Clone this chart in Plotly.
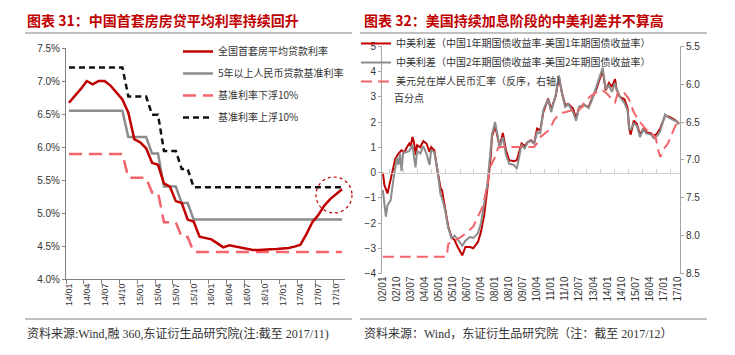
import plotly.graph_objects as go

W, H = 735, 355
OFF = 8  # page body margin offset
def px(x): return (x - OFF) / W
def py(y): return 1 - (y - OFF) / H

# ---------------- Left chart data (monthly 2014/01 - 2017/11) ----------------
months_left = ["14/01","14/02","14/03","14/04","14/05","14/06","14/07","14/08","14/09","14/10","14/11","14/12",
               "15/01","15/02","15/03","15/04","15/05","15/06","15/07","15/08","15/09","15/10","15/11","15/12",
               "16/01","16/02","16/03","16/04","16/05","16/06","16/07","16/08","16/09","16/10","16/11","16/12",
               "17/01","17/02","17/03","17/04","17/05","17/06","17/07","17/08","17/09","17/10","17/11"]
avg_mortgage = [6.67,6.77,6.88,7.00,6.95,7.00,7.00,6.93,6.83,6.72,6.52,6.12,
                6.07,5.98,5.76,5.73,5.45,5.40,5.18,5.15,4.90,4.87,4.64,4.62,
                4.60,4.54,4.48,4.51,4.49,4.48,4.45,4.44,4.44,4.44,4.45,4.455,
                4.46,4.47,4.49,4.52,4.68,4.86,4.97,5.11,5.21,5.29,5.36]
base_5y = [6.55,6.55,6.55,6.55,6.55,6.55,6.55,6.55,6.55,6.55,6.15,6.15,
           6.15,6.15,5.90,5.90,5.40,5.40,5.40,5.15,5.15,4.90,4.90,4.90,
           4.90,4.90,4.90,4.90,4.90,4.90,4.90,4.90,4.90,4.90,4.90,4.90,
           4.90,4.90,4.90,4.90,4.90,4.90,4.90,4.90,4.90,4.90,4.90]
base_down10 = [5.895,5.895,5.895,5.895,5.895,5.895,5.895,5.895,5.895,5.895,5.535,5.535,
               5.535,5.535,5.31,5.31,4.86,4.86,4.86,4.635,4.635,4.41,4.41,4.41,
               4.41,4.41,4.41,4.41,4.41,4.41,4.41,4.41,4.41,4.41,4.41,4.41,
               4.41,4.41,4.41,4.41,4.41,4.41,4.41,4.41,4.41,4.41,4.41]
base_up10 = [7.205,7.205,7.205,7.205,7.205,7.205,7.205,7.205,7.205,7.205,6.765,6.765,
             6.765,6.765,6.49,6.49,5.94,5.94,5.94,5.665,5.665,5.39,5.39,5.39,
             5.39,5.39,5.39,5.39,5.39,5.39,5.39,5.39,5.39,5.39,5.39,5.39,
             5.39,5.39,5.39,5.39,5.39,5.39,5.39,5.39,5.39,5.39,5.39]
left_yticks = [4.0,4.5,5.0,5.5,6.0,6.5,7.0,7.5]
left_yticktext = ["4.0%","4.5%","5.0%","5.5%","6.0%","6.5%","7.0%","7.5%"]

# ---------------- Right chart data ----------------
spread1_dates = ["2002-01","2002-02","2002-04","2002-05","2002-06","2002-08","2002-09","2002-11","2003-01","2003-03",
                 "2003-04","2003-06","2003-07","2003-08","2003-09","2003-10","2003-11","2004-01","2004-03","2004-05",
                 "2004-07","2004-08","2004-09","2004-10","2004-12","2005-02","2005-03","2005-05","2005-07","2005-09",
                 "2005-11","2006-01","2006-04","2006-06","2006-09","2006-11","2007-02","2007-04","2007-06","2007-08",
                 "2007-10","2007-11","2008-01","2008-04","2008-06","2008-08","2008-10","2009-01","2009-03","2009-06",
                 "2009-08","2009-10","2009-12","2010-02","2010-04","2010-06","2010-08","2010-11","2011-01","2011-04",
                 "2011-06","2011-08","2011-10","2011-12","2012-03","2012-05","2012-07","2012-10","2013-01","2013-03",
                 "2013-06","2013-10","2013-12","2014-02","2014-04","2014-06","2014-07","2014-09","2014-12","2015-02",
                 "2015-03","2015-04","2015-06","2015-08","2015-10","2015-12","2016-02","2016-05","2016-07","2016-09",
                 "2016-11","2017-02","2017-05","2017-08","2017-10","2017-11"]
spread1_vals = [0.0,-0.5,-0.83,-0.55,-0.37,0.22,0.55,0.75,0.88,0.8,
                0.95,1.15,1.05,1.41,1.2,0.7,1.08,1.0,1.25,1.15,
                0.82,1.01,0.95,0.88,0.09,-0.63,-0.7,-1.49,-2.15,-2.55,
                -2.68,-2.95,-3.28,-2.95,-2.95,-3.0,-2.75,-2.35,-1.7,-0.7,
                0.49,1.41,1.85,1.01,1.57,0.88,0.49,0.45,0.49,1.15,
                1.05,1.21,1.28,1.15,1.74,1.67,2.4,2.93,2.5,3.05,
                3.79,3.13,2.67,2.72,2.53,2.14,2.6,2.67,2.6,2.9,
                3.3,4.05,3.26,3.55,3.39,3.7,3.3,3.0,2.9,2.55,
                1.8,1.5,2.05,1.92,1.5,1.72,1.6,1.55,1.45,1.55,
                1.75,2.25,2.2,2.1,2.0,1.95]

spread2_dates = ["2002-01","2002-02","2002-03","2002-04","2002-06","2002-08","2002-09","2002-10","2002-11","2002-12",
                 "2003-01","2003-02","2003-04","2003-06","2003-08","2003-10","2003-11","2004-01","2004-03","2004-05",
                 "2004-07","2004-08","2004-10","2004-12","2005-02","2005-03","2005-05","2005-07","2005-09","2005-11",
                 "2006-01","2006-04","2006-06","2006-09","2006-11","2007-02","2007-04","2007-06","2007-08","2007-10",
                 "2007-11","2008-01","2008-04","2008-06","2008-08","2008-10","2009-01","2009-03","2009-06","2009-08",
                 "2009-10","2009-12","2010-02","2010-04","2010-06","2010-08","2010-11","2011-01","2011-04","2011-06",
                 "2011-08","2011-10","2011-12","2012-03","2012-05","2012-07","2012-10","2013-01","2013-03","2013-06",
                 "2013-10","2013-12","2014-02","2014-04","2014-06","2014-07","2014-09","2014-12","2015-02","2015-03",
                 "2015-04","2015-06","2015-08","2015-10","2015-12","2016-02","2016-05","2016-07","2016-09","2016-11",
                 "2017-02","2017-05","2017-08","2017-10","2017-11"]
spread2_vals = [-0.7,-1.2,-1.75,-1.3,-1.1,-0.2,0.3,0.6,0.3,0.75,
                0.05,0.8,0.8,0.85,1.1,0.2,0.85,0.75,1.05,0.75,
                0.3,0.9,0.8,0.1,-0.9,-1.0,-1.5,-2.2,-2.6,-2.5,
                -2.65,-2.9,-2.7,-2.55,-2.6,-2.4,-2.0,-1.3,-0.5,0.8,
                1.5,2.0,1.0,1.4,0.7,0.35,0.3,0.15,1.1,0.95,
                1.2,1.25,1.15,1.6,1.55,2.5,2.9,2.4,3.1,3.85,
                3.1,2.6,2.7,2.4,2.05,2.6,2.7,2.55,2.85,3.4,
                4.15,3.3,3.45,3.2,3.55,3.3,3.0,2.75,2.45,1.75,
                1.7,1.95,1.85,1.4,1.7,1.55,1.5,1.35,1.45,1.65,
                2.3,2.15,2.05,2.0,1.9]

cny_dates = ["2002-01","2005-06","2005-07","2005-10","2006-03","2006-07","2006-11","2007-01","2007-03","2007-05",
             "2007-08","2007-10","2008-01","2008-03","2008-05","2010-02","2010-04","2010-06","2010-12","2011-03",
             "2011-07","2011-10","2012-03","2012-05","2012-09","2012-10","2013-01","2013-05","2013-10","2014-01",
             "2014-04","2014-06","2014-08","2014-12","2015-03","2015-05","2015-06","2015-09","2016-01","2016-05",
             "2016-08","2016-10","2016-11","2017-01","2017-04","2017-08","2017-10","2017-11"]
cny_vals = [8.28,8.28,8.11,8.08,8.02,7.96,7.88,7.79,7.70,7.62,
            7.35,7.09,6.96,6.84,6.83,6.83,6.78,6.70,6.60,6.47,
            6.38,6.37,6.34,6.37,6.30,6.24,6.18,6.12,6.08,6.13,
            6.20,6.24,6.10,6.12,6.20,6.30,6.37,6.47,6.58,6.65,
            6.70,6.90,6.96,6.86,6.78,6.58,6.50,6.47]

right_xtick_labels = ["02/01","02/10","03/07","04/04","05/01","05/10","06/07","07/04","08/01","08/10","09/07",
                      "10/04","11/01","11/10","12/07","13/04","14/01","14/10","15/07","16/04","17/01","17/10"]
right_xtick_vals = ["20" + t[:2] + "-" + t[3:] + "-01" for t in right_xtick_labels]

RED = "#C00000"
GREY = "#8C8C8C"
PINK = "#F4646B"
BLACK = "#111111"
TICKFONT = dict(family="Liberation Sans, Arial, sans-serif", size=10, color="#333333")
CJK = "Noto Sans CJK SC, sans-serif"

fig = go.Figure()

fig.add_trace(go.Scatter(x=months_left, y=base_5y, mode="lines", name="5年以上人民币贷款基准利率",
                         line=dict(color=GREY, width=2.5), legend="legend", legendrank=2,
                         xaxis="x", yaxis="y", legendgroup="g2"))
fig.add_trace(go.Scatter(x=months_left, y=base_down10, mode="lines", name="基准利率下浮10%",
                         line=dict(color=PINK, width=2.5, dash="13px,7px"), legend="legend", legendrank=3,
                         xaxis="x", yaxis="y", legendgroup="g3"))
fig.add_trace(go.Scatter(x=months_left, y=base_up10, mode="lines", name="基准利率上浮10%",
                         line=dict(color=BLACK, width=2.5, dash="6px,4px"), legend="legend", legendrank=4,
                         xaxis="x", yaxis="y", legendgroup="g4"))
fig.add_trace(go.Scatter(x=months_left, y=avg_mortgage, mode="lines", name="全国首套房平均贷款利率",
                         line=dict(color=RED, width=2.5), legend="legend", legendrank=1,
                         xaxis="x", yaxis="y", legendgroup="g1"))

fig.add_trace(go.Scatter(x=spread1_dates, y=spread1_vals, mode="lines",
                         name="中美利差（中国1年期国债收益率-美国1年期国债收益率）",
                         line=dict(color=RED, width=2), legend="legend2", legendrank=1,
                         xaxis="x2", yaxis="y2"))
fig.add_trace(go.Scatter(x=spread2_dates, y=spread2_vals, mode="lines",
                         name="中美利差（中国2年期国债收益率-美国2年期国债收益率）",
                         line=dict(color=GREY, width=2), legend="legend2", legendrank=2,
                         xaxis="x2", yaxis="y2"))
fig.add_trace(go.Scatter(x=cny_dates, y=cny_vals, mode="lines",
                         name="美元兑在岸人民币汇率（反序，右轴）",
                         line=dict(color=PINK, width=2, dash="11px,6px"), legend="legend2", legendrank=3,
                         xaxis="x2", yaxis="y3"))
fig.add_trace(go.Scatter(x=[spread1_dates[0]], y=[None], mode="lines", showlegend=False,
                         hoverinfo="skip", xaxis="x3", yaxis="y2"))

L_X0, L_X1, L_Y0, L_Y1 = 66, 345, 48, 279
R_X0, R_X1, R_Y0, R_Y1 = 382, 680, 46.3, 273.5
zero_y = R_Y1 - (R_Y1 - R_Y0) * 4 / 9

fig.update_layout(
    width=W, height=H, margin=dict(l=0, r=0, t=0, b=0, pad=0, autoexpand=False),
    paper_bgcolor="white", plot_bgcolor="rgba(0,0,0,0)",
    showlegend=True,
    xaxis=dict(domain=[px(L_X0), px(L_X1)], anchor="y", type="category",
               range=[-0.5, len(months_left) - 0.5], dtick=3, tickson="boundaries",
               ticks="outside", ticklen=4, tickcolor="#808080", tickangle=-90,
               showline=True, linecolor="#808080", linewidth=1, showgrid=False,
               tickfont=dict(family=TICKFONT["family"], size=9, color="#333333")),
    yaxis=dict(domain=[py(L_Y1), py(L_Y0)], anchor="x", range=[4.0, 7.5],
               tickmode="array", tickvals=left_yticks, ticktext=left_yticktext,
               ticks="outside", ticklen=3, tickcolor="#808080",
               showline=True, linecolor="#808080", linewidth=1, showgrid=False, zeroline=False,
               tickfont=TICKFONT),
    xaxis2=dict(domain=[px(R_X0), px(R_X1)], anchor="y2", type="date",
                range=["2001-12-15", "2017-11-20"], tickvals=right_xtick_vals, ticktext=right_xtick_labels,
                tickangle=-90, ticks="", showline=False, showgrid=False, zeroline=False,
                tickfont=TICKFONT),
    xaxis3=dict(overlaying="x2", anchor="free", position=py(zero_y), type="date",
                range=["2001-12-15", "2017-11-20"], tick0="2002-05-15", dtick="M9",
                ticks="inside", ticklen=4, tickcolor="#D0D0D0", showticklabels=False,
                showline=True, linecolor="#D0D0D0", linewidth=1, showgrid=False, zeroline=False),
    yaxis2=dict(domain=[py(R_Y1), py(R_Y0)], anchor="x2", range=[-4, 5], dtick=1,
                ticks="outside", ticklen=3, tickcolor="#A6A6A6",
                showline=True, linecolor="#A6A6A6", linewidth=1, showgrid=False, zeroline=False,
                tickfont=TICKFONT),
    yaxis3=dict(overlaying="y2", side="right", anchor="x2", range=[8.5, 5.5], dtick=0.5,
                tickformat=".1f", ticks="outside", ticklen=3, tickcolor="#A6A6A6",
                showline=True, linecolor="#A6A6A6", linewidth=1, showgrid=False, zeroline=False,
                tickfont=TICKFONT),
    legend=dict(x=px(178), y=py(37), xanchor="left", yanchor="top", bgcolor="rgba(0,0,0,0)",
                traceorder="grouped", tracegroupgap=3,
                font=dict(family=CJK, size=10, color="#333333")),
    legend2=dict(x=px(356), y=py(29), xanchor="left", yanchor="top", bgcolor="rgba(0,0,0,0)",
                 font=dict(family=CJK, size=10, color="#333333")),
)

annos = [
    dict(text="<b>图表 31：中国首套房房贷平均利率持续回升</b>", x=px(25), y=py(20), xanchor="left", yanchor="middle",
         font=dict(family=CJK, size=14, color=RED)),
    dict(text="<b>图表 32：美国持续加息阶段的中美利差并不算高</b>", x=px(362), y=py(20), xanchor="left", yanchor="middle",
         font=dict(family=CJK, size=14, color=RED)),
    dict(text="资料来源:Wind,融 360,东证衍生品研究院(注:截至 2017/11)", x=px(25), y=py(333), xanchor="left", yanchor="middle",
         font=dict(family="Liberation Serif, " + CJK, size=12, color="#333333")),
    dict(text="资料来源：Wind，东证衍生品研究院（注：截至 2017/12）", x=px(362), y=py(333), xanchor="left", yanchor="middle",
         font=dict(family="Liberation Serif, " + CJK, size=12, color="#333333")),
    dict(text="百分点", x=px(392), y=py(97), xanchor="left", yanchor="middle",
         font=dict(family=CJK, size=10, color="#333333")),
]
for a in annos:
    a.update(xref="paper", yref="paper", showarrow=False)
fig.update_layout(annotations=annos)

shapes = [
    dict(type="line", xref="paper", yref="paper", x0=px(25), x1=px(352), y0=py(33), y1=py(33),
         line=dict(color="#808080", width=1)),
    dict(type="line", xref="paper", yref="paper", x0=px(360), x1=px(707), y0=py(33), y1=py(33),
         line=dict(color="#808080", width=1)),
    dict(type="line", xref="paper", yref="paper", x0=px(25), x1=px(352), y0=py(319), y1=py(319),
         line=dict(color="#808080", width=1)),
    dict(type="line", xref="paper", yref="paper", x0=px(360), x1=px(707), y0=py(319), y1=py(319),
         line=dict(color="#808080", width=1)),
    dict(type="circle", xref="paper", yref="paper", x0=px(316), x1=px(352), y0=py(213), y1=py(177),
         line=dict(color=RED, width=1.2, dash="3px,3px")),
]
fig.update_layout(shapes=shapes)

fig.write_html("out.html")
